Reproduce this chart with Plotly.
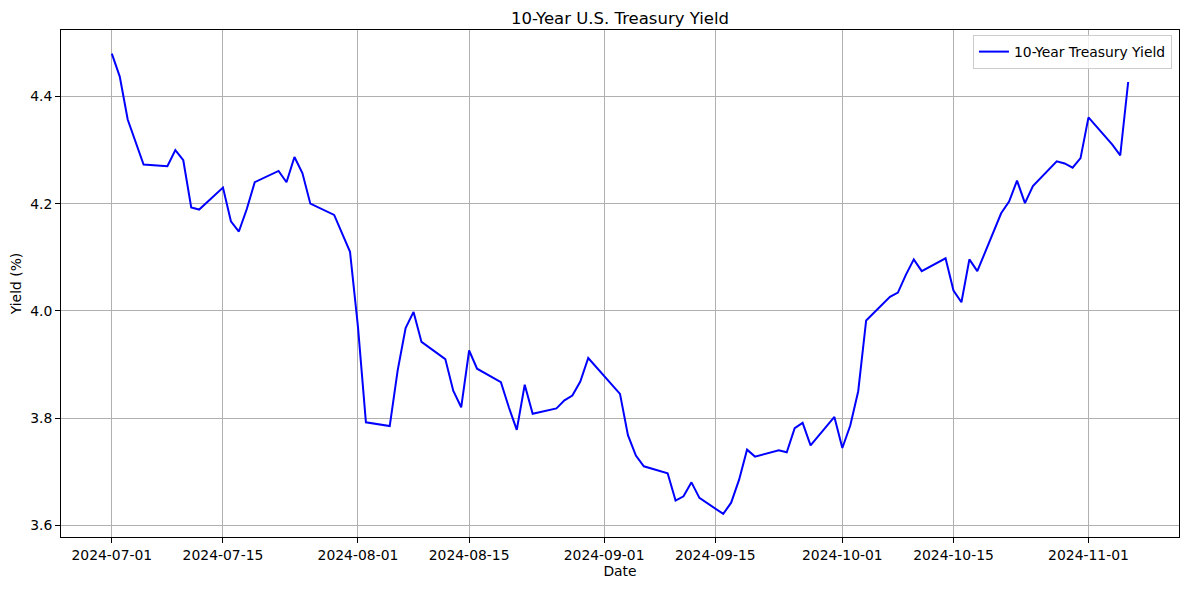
import plotly.graph_objects as go

dates = [
    "2024-07-01", "2024-07-02", "2024-07-03", "2024-07-05", "2024-07-08", "2024-07-09",
    "2024-07-10", "2024-07-11", "2024-07-12", "2024-07-15", "2024-07-16", "2024-07-17",
    "2024-07-18", "2024-07-19", "2024-07-22", "2024-07-23", "2024-07-24", "2024-07-25",
    "2024-07-26", "2024-07-29", "2024-07-31", "2024-08-01", "2024-08-02", "2024-08-05",
    "2024-08-06", "2024-08-07", "2024-08-08", "2024-08-09", "2024-08-12", "2024-08-13",
    "2024-08-14", "2024-08-15", "2024-08-16", "2024-08-19", "2024-08-20", "2024-08-21",
    "2024-08-22", "2024-08-23", "2024-08-26", "2024-08-27", "2024-08-28", "2024-08-29",
    "2024-08-30", "2024-09-03", "2024-09-04", "2024-09-05", "2024-09-06", "2024-09-09",
    "2024-09-10", "2024-09-11", "2024-09-12", "2024-09-13", "2024-09-16", "2024-09-17",
    "2024-09-18", "2024-09-19", "2024-09-20", "2024-09-23", "2024-09-24", "2024-09-25",
    "2024-09-26", "2024-09-27", "2024-09-30", "2024-10-01", "2024-10-02", "2024-10-03",
    "2024-10-04", "2024-10-07", "2024-10-08", "2024-10-09", "2024-10-10", "2024-10-11",
    "2024-10-14", "2024-10-15", "2024-10-16", "2024-10-17", "2024-10-18", "2024-10-21",
    "2024-10-22", "2024-10-23", "2024-10-24", "2024-10-25", "2024-10-28", "2024-10-29",
    "2024-10-30", "2024-10-31", "2024-11-01", "2024-11-04", "2024-11-05", "2024-11-06",
]

yields = [
    4.480, 4.437, 4.357, 4.273, 4.270, 4.300,
    4.281, 4.193, 4.189, 4.230, 4.167, 4.148,
    4.190, 4.240, 4.261, 4.240, 4.287, 4.257,
    4.200, 4.179, 4.110, 3.970, 3.792, 3.785,
    3.889, 3.968, 3.998, 3.942, 3.910, 3.851,
    3.820, 3.926, 3.892, 3.867, 3.820, 3.778,
    3.862, 3.808, 3.818, 3.833, 3.842, 3.868,
    3.912, 3.845, 3.768, 3.730, 3.710, 3.697,
    3.646, 3.654, 3.680, 3.651, 3.621, 3.642,
    3.685, 3.741, 3.728, 3.740, 3.736, 3.781,
    3.791, 3.749, 3.802, 3.744, 3.786, 3.850,
    3.982, 4.026, 4.034, 4.067, 4.096, 4.074,
    4.098, 4.038, 4.016, 4.096, 4.074, 4.182,
    4.204, 4.243, 4.201, 4.233, 4.279, 4.275,
    4.267, 4.285, 4.361, 4.310, 4.290, 4.427,
]

x_ticks = ["2024-07-01", "2024-07-15", "2024-08-01", "2024-08-15", "2024-09-01",
           "2024-09-15", "2024-10-01", "2024-10-15", "2024-11-01"]
y_ticks = [3.6, 3.8, 4.0, 4.2, 4.4]

FONT = "DejaVu Sans"
FS = 13.9

# the page body has an 8px margin; size the figure to fill the rest of the window
W, H = 1181, 582

fig = go.Figure()
fig.add_trace(go.Scatter(
    x=dates, y=yields, mode="lines", name="10-Year Treasury Yield",
    line=dict(color="#0000ff", width=2),
))

fig.update_layout(
    width=W, height=H,
    margin=dict(l=53, r=10, t=22, b=53, autoexpand=False),
    paper_bgcolor="white", plot_bgcolor="white",
    font=dict(family=FONT, size=FS, color="black"),
    title=dict(text="10-Year U.S. Treasury Yield", x=0.5, xref="paper",
               y=1 - 10 / H, yref="container", yanchor="middle", xanchor="center",
               font=dict(family=FONT, size=16.5, color="black")),
    showlegend=True,
    legend=dict(x=0.9937, y=0.99, xanchor="right", yanchor="top",
                bgcolor="rgba(255,255,255,0.8)", bordercolor="#cccccc", borderwidth=1,
                font=dict(family=FONT, size=FS, color="black"),
                itemwidth=30, tracegroupgap=0),
)

fig.update_xaxes(
    type="date",
    range=["2024-06-24 14:24", "2024-11-12 09:36"],
    tickvals=x_ticks, ticktext=x_ticks,
    showgrid=True, gridcolor="#b0b0b0", gridwidth=1,
    showline=True, linecolor="black", linewidth=1, mirror=True,
    ticks="outside", ticklen=5, tickcolor="black", tickwidth=1,
    zeroline=False,
    title=dict(text="Date", standoff=4, font=dict(family=FONT, size=FS)),
)
fig.update_yaxes(
    range=[3.578, 4.524],
    tickvals=y_ticks, ticktext=[f"{v:.1f}" for v in y_ticks],
    showgrid=True, gridcolor="#b0b0b0", gridwidth=1,
    showline=True, linecolor="black", linewidth=1, mirror=True,
    ticks="outside", ticklen=5, tickcolor="black", tickwidth=1,
    zeroline=False,
    title=dict(text="Yield (%)", standoff=8, font=dict(family=FONT, size=FS)),
)

fig.write_html("out.html")
